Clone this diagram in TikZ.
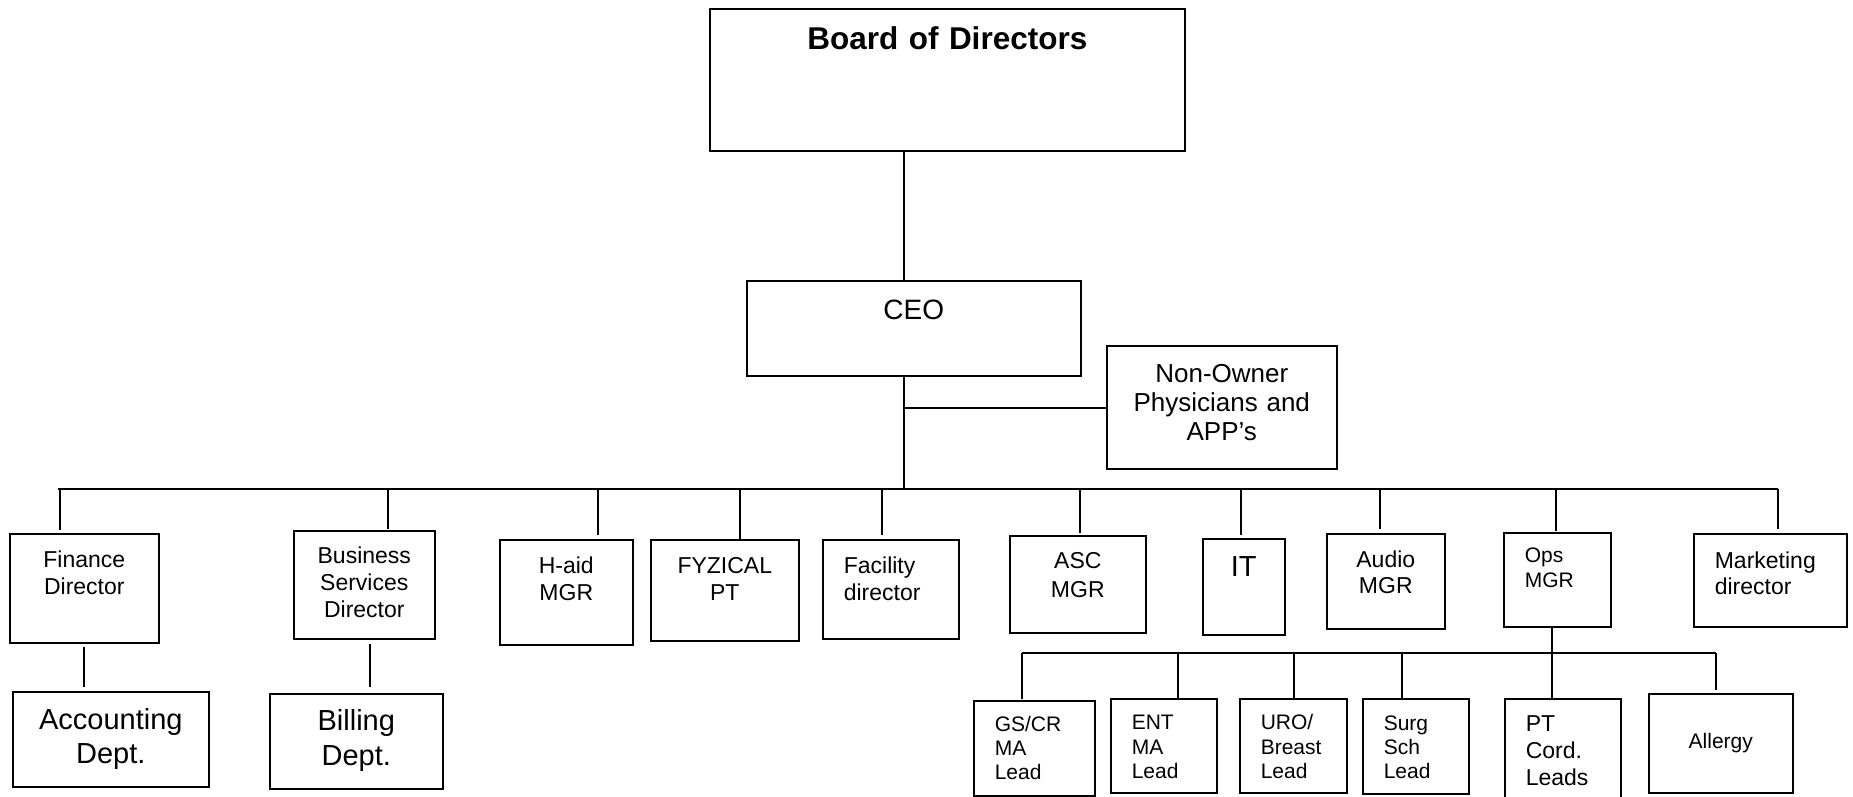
\documentclass[tikz,border=0pt]{standalone}
\usepackage{fontspec}
\setmainfont{Liberation Sans}
\usetikzlibrary{calc}

\newcommand\fsz[2]{\fontsize{#1pt}{#2pt}\selectfont}

\tikzset{
  box/.style={draw, line width=1.6pt, anchor=north west, inner sep=0pt, align=center},
  lbox/.style={box, align=left, inner xsep=21pt},
  link/.style={line width=1.3pt},
  dims/.style n args={3}{text width=#1pt, text height=#2pt, text depth=#3pt},
}

\begin{document}
\begin{tikzpicture}[x=1pt, y=-1pt]
  \fill[white] (0,0) rectangle (1853,797);
  \useasboundingbox (0,0) rectangle (1853,797);

  % top of the chart
  \node[box, dims={475}{41}{101}, font=\fsz{31.5}{36}\bfseries] (board) at (709,8) {Board of Directors};
  \node[box, dims={334}{39}{56}, font=\fsz{28}{32}] (ceo) at (746,280) {CEO};
  \node[box, dims={230}{37}{86}, font=\fsz{26}{29}] (npa) at (1106,345) {Non-Owner\\Physicians and\\APP’s};

  % directors and managers
  \node[box, dims={149}{34}{75}, font=\fsz{23}{26.7}] (fin) at (9,533) {Finance\\Director};
  \node[box, dims={141}{33}{75}, font=\fsz{23}{27}] (bsd) at (293,530) {Business\\Services\\Director};
  \node[box, dims={133}{34}{71}, font=\fsz{23}{26.5}] (haid) at (499,539) {H-aid\\MGR};
  \node[box, dims={148}{34}{67}, font=\fsz{23}{26.5}] (fyz) at (650,539) {FYZICAL\\PT};
  \node[lbox, dims={94}{34}{65}, font=\fsz{23}{27}] (fac) at (822,539) {Facility\\director};
  \node[box, dims={136}{33}{64}, font=\fsz{23}{29}] (asc) at (1009,535) {ASC\\MGR};
  \node[box, dims={82}{38}{58}, font=\fsz{29}{33}] (it) at (1202,538) {IT};
  \node[box, dims={118}{34}{61}, font=\fsz{23}{26}] (aud) at (1326,533) {Audio\\MGR};
  \node[lbox, dims={65}{30}{64}, font=\fsz{21}{25}] (ops) at (1503,532) {Ops\\MGR};
  \node[lbox, dims={111}{35}{58}, font=\fsz{23}{25.7}] (mkt) at (1693,533) {Marketing\\director};

  % departments
  \node[box, dims={196}{38}{57}, font=\fsz{29}{34}] (acc) at (12,691) {Accounting\\Dept.};
  \node[box, dims={173}{37}{58}, font=\fsz{29}{35}] (bill) at (269,693) {Billing\\Dept.};

  % leads under ops
  \node[lbox, dims={79}{31}{64}, font=\fsz{21}{24}] (gscr) at (973,700) {GS/CR\\MA\\Lead};
  \node[lbox, dims={64}{31}{63}, font=\fsz{21}{24.5}] (ent) at (1110,698) {ENT\\MA\\Lead};
  \node[lbox, dims={65}{31}{63}, font=\fsz{21}{24.5}] (uro) at (1239,698) {URO/\\Breast\\Lead};
  \node[lbox, dims={64}{32}{63}, font=\fsz{21}{24}] (surg) at (1362,698) {Surg\\Sch\\Lead};
  \node[lbox, dims={74}{33}{70}, font=\fsz{23}{27}] (ptc) at (1504,698) {PT\\Cord.\\Leads};
  \node[box, dims={144}{55}{44}, font=\fsz{21}{24}] (alg) at (1648,693) {Allergy};

  % connectors
  \coordinate (spine) at (904,489);
  \draw[link] (board.south -| spine) -- (ceo.north -| spine);
  \draw[link] (ceo.south -| spine) -- (spine);
  \coordinate (branch) at (904,408);
  \draw[link] (branch) -- (branch -| npa.west);

  \coordinate (bar-l) at (58,489);
  \coordinate (bar-r) at (1778,489);
  \draw[link] (bar-l) -- (bar-r);
  \foreach \n/\x/\g in {fin/60/3, bsd/388/1, haid/598/4, fyz/740/0, fac/882/4,
                        asc/1080/2, it/1241/3, aud/1380/4, ops/1556/1, mkt/1778/4} {
    \coordinate (d-\n) at (\x,489);
    \draw[link, shorten >=\g pt] (d-\n) -- (d-\n |- \n.north);
  }

  \coordinate (fa) at (84,0);
  \draw[link, shorten <=3pt, shorten >=4pt] (fin.south -| fa) -- (acc.north -| fa);
  \coordinate (bb) at (370,0);
  \draw[link, shorten <=4pt, shorten >=6pt] (bsd.south -| bb) -- (bill.north -| bb);

  \coordinate (ops-spine) at (1552,653);
  \draw[link] (ops.south -| ops-spine) -- (ptc.north -| ops-spine);
  \coordinate (sub-l) at (1022,653);
  \coordinate (sub-r) at (1716,653);
  \draw[link] (sub-l) -- (sub-r);
  \foreach \n/\x/\g in {gscr/1022/1, ent/1178/0, uro/1294/0, surg/1402/0, alg/1716/3} {
    \coordinate (s-\n) at (\x,653);
    \draw[link, shorten >=\g pt] (s-\n) -- (s-\n |- \n.north);
  }
\end{tikzpicture}
\end{document}
